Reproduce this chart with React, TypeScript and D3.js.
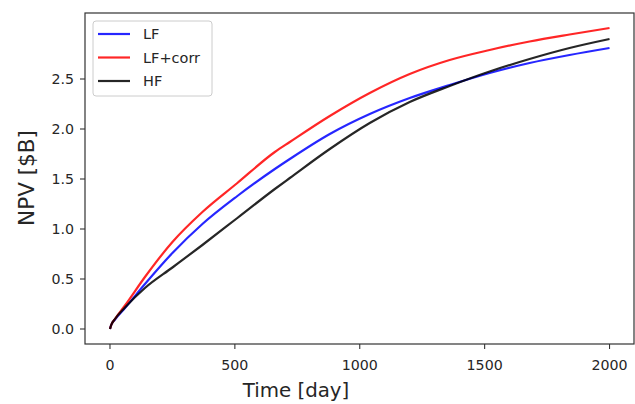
import React from "react";
import * as d3 from "d3";

const days = [0, 5, 20, 60, 140, 250, 370, 510, 660, 720, 880, 1040, 1200, 1360, 1520, 1680, 1840, 2000];
const lf = [0, 0.04, 0.095, 0.21, 0.45, 0.76, 1.05, 1.33, 1.6, 1.7, 1.95, 2.15, 2.31, 2.44, 2.56, 2.66, 2.74, 2.81];
const lfCorr = [0, 0.04, 0.1, 0.235, 0.52, 0.87, 1.17, 1.46, 1.77, 1.87, 2.13, 2.36, 2.55, 2.69, 2.79, 2.875, 2.945, 3.01];
const hf = [0, 0.04, 0.1, 0.215, 0.41, 0.615, 0.84, 1.11, 1.4, 1.51, 1.8, 2.06, 2.27, 2.43, 2.575, 2.7, 2.81, 2.9];
const seriesNames = ["LF", "LF+corr", "HF"];
const seriesColors = ["#0000ff", "#ff0000", "#000000"];
const xTicks = [0, 500, 1000, 1500, 2000];
const yTicks = [0, 0.5, 1.0, 1.5, 2.0, 2.5];

const W = 635;
const H = 404;
const left = 85;
const right = 634;
const top = 13;
const bottom = 344;
const font = "DejaVu Sans, sans-serif";

export default function App() {
  const x = d3.scaleLinear().domain([-100, 2100]).range([left, right + 0.5]);
  const y = d3.scaleLinear().domain([-0.15, 3.16]).range([bottom, top]);
  const allSeries = [lf, lfCorr, hf];
  const line = d3
    .line<[number, number]>()
    .x((d) => x(d[0]))
    .y((d) => y(d[1]))
    .curve(d3.curveMonotoneX);

  return (
    <svg
      width={W}
      height={H}
      style={{ position: "absolute", left: 0, top: 0, background: "#fff" }}
      fontFamily={font}
    >
      <rect x={0} y={0} width={W} height={H} fill="#fff" />
      {allSeries.map((s, i) => (
        <path
          key={i}
          d={line(days.map((d, j) => [d, s[j]] as [number, number])) || ""}
          fill="none"
          stroke={seriesColors[i]}
          strokeWidth={2.2}
          strokeOpacity={0.85}
        />
      ))}
      <rect
        x={left}
        y={top}
        width={right - left}
        height={bottom - top}
        fill="none"
        stroke="#333"
        strokeWidth={1.2}
      />
      {xTicks.map((t) => (
        <g key={t}>
          <line x1={x(t)} x2={x(t)} y1={bottom} y2={bottom + 5} stroke="#333" strokeWidth={1.1} />
          <text x={x(t)} y={370} textAnchor="middle" fontSize={14.2} fill="#262626">
            {t}
          </text>
        </g>
      ))}
      {yTicks.map((t) => (
        <g key={t}>
          <line x1={left - 5} x2={left} y1={y(t)} y2={y(t)} stroke="#333" strokeWidth={1.1} />
          <text x={74} y={y(t) + 5.2} textAnchor="end" fontSize={14.2} fill="#262626">
            {t.toFixed(1)}
          </text>
        </g>
      ))}
      <text x={296} y={397} textAnchor="middle" fontSize={19.8} fill="#262626">
        Time [day]
      </text>
      <text
        transform={`translate(34,178) rotate(-90)`}
        textAnchor="middle"
        fontSize={21.5}
        fill="#262626"
      >
        NPV [$B]
      </text>
      <g>
        <rect x={93} y={21} width={119} height={75} rx={3} fill="#fff" fillOpacity={0.8} stroke="#ccc" strokeWidth={1} />
        {seriesNames.map((n, i) => (
          <g key={n}>
            <line x1={98} x2={130} y1={34 + i * 23.5} y2={34 + i * 23.5} stroke={seriesColors[i]} strokeWidth={2.2} strokeOpacity={0.85} />
            <text x={143} y={34 + i * 23.5 + 5.3} fontSize={14.5} fill="#262626">
              {n}
            </text>
          </g>
        ))}
      </g>
    </svg>
  );
}
